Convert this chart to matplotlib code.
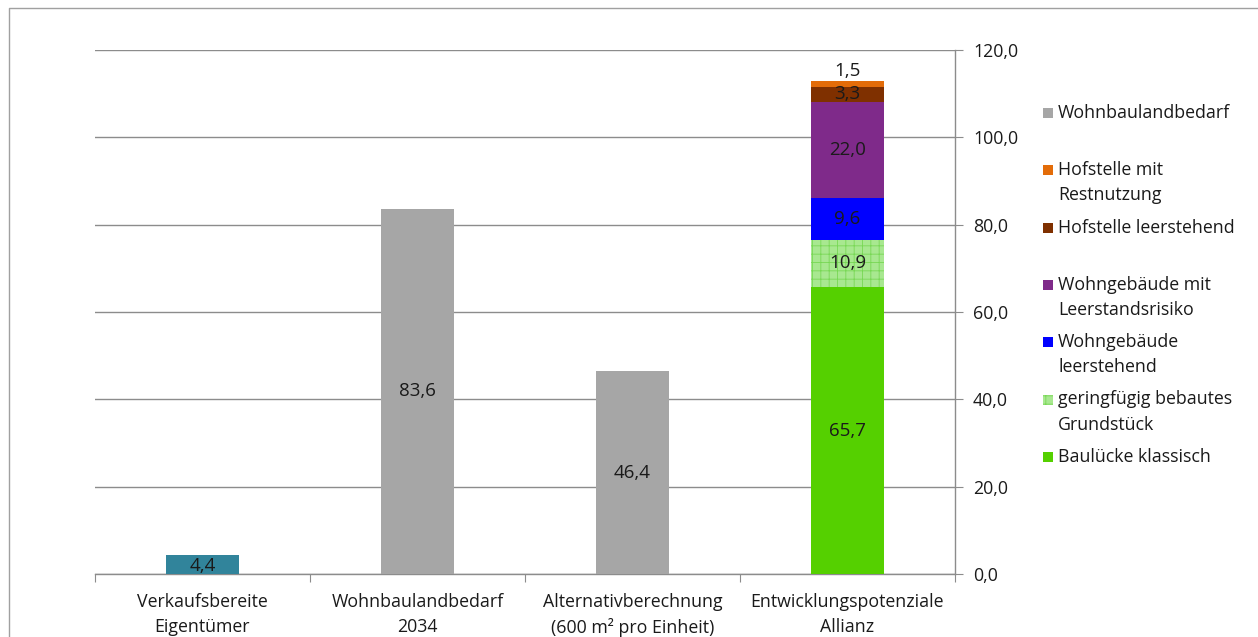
import numpy as np
import matplotlib.pyplot as plt
from matplotlib.patches import Rectangle
from matplotlib.lines import Line2D
from matplotlib.ticker import FuncFormatter

plt.rcParams['font.family'] = ['Open Sans', 'DejaVu Sans']
plt.rcParams['hatch.linewidth'] = 0.6

# Daten
categories = ['Verkaufsbereite\nEigentümer', 'Wohnbaulandbedarf\n2034',
              'Alternativberechnung\n(600 m² pro Einheit)', 'Entwicklungspotenziale\nAllianz']
single_values = [4.4, 83.6, 46.4]
single_colors = ['#31849B', '#A6A6A6', '#A6A6A6']
stack_names = ['Baulücke klassisch', 'geringfügig bebautes\nGrundstück', 'Wohngebäude\nleerstehend',
               'Wohngebäude mit\nLeerstandsrisiko', 'Hofstelle leerstehend', 'Hofstelle mit\nRestnutzung']
stack_values = [65.7, 10.9, 9.6, 22.0, 3.3, 1.5]
stack_colors = ['#55D000', '#A8E890', '#0000FF', '#7F2A8A', '#7F3000', '#E36C09']
legend_names = ['Wohnbaulandbedarf', 'Hofstelle mit\nRestnutzung', 'Hofstelle leerstehend',
                'Wohngebäude mit\nLeerstandsrisiko', 'Wohngebäude\nleerstehend',
                'geringfügig bebautes\nGrundstück', 'Baulücke klassisch']
legend_colors = ['#A6A6A6', '#E36C09', '#7F3000', '#7F2A8A', '#0000FF', '#A8E890', '#55D000']

fmt = lambda v: ('%.1f' % v).replace('.', ',')
FS = 12.8
VS = 13.5
TXT = '#1a1a1a'

fig = plt.figure(figsize=(12.58, 6.37), dpi=100)
ax = fig.add_axes([95 / 1258, 1 - 574 / 637, 860 / 1258, 524 / 637])

w = 0.335
x = np.arange(len(categories))

# einzelne Balken
for i, v in enumerate(single_values):
    ax.bar(x[i], v, w, color=single_colors[i], zorder=3)
    y = v / 2 if v > 10 else v / 2 - 0.3
    ax.text(x[i], y, fmt(v), ha='center', va='center', fontsize=VS, color=TXT, zorder=4)

# gestapelter Balken
bottom = 0
for i, v in enumerate(stack_values):
    if i == 1:
        ax.bar(x[3], v, w, bottom=bottom, color=stack_colors[i], edgecolor='#78D855',
               linewidth=0, hatch='++', zorder=3)
    else:
        ax.bar(x[3], v, w, bottom=bottom, color=stack_colors[i], zorder=3)
    if i == len(stack_values) - 1:
        ax.text(x[3], bottom + v + 0.1, fmt(v), ha='center', va='bottom', fontsize=VS,
                color=TXT, zorder=4)
    else:
        ax.text(x[3], bottom + v / 2, fmt(v), ha='center', va='center', fontsize=VS,
                color=TXT, zorder=4)
    bottom += v

ax.set_xlim(-0.5, 3.5)
ax.set_ylim(0, 120)
ax.yaxis.tick_right()
ax.set_yticks(np.arange(0, 121, 20))
ax.yaxis.set_major_formatter(FuncFormatter(lambda v, p: fmt(v)))
ax.grid(axis='y', color='#8C8C8C', linewidth=1, zorder=0)
ax.set_xticks([-0.5, 0.5, 1.5, 2.5, 3.5])
ax.set_xticklabels([])
ax.set_xticks(x, minor=True)
ax.set_xticklabels(categories, minor=True, fontsize=FS, color=TXT, linespacing=1.45)
ax.tick_params(axis='x', which='minor', length=0, pad=14)
ax.tick_params(axis='x', which='major', length=6, color='#8C8C8C', direction='out')
ax.tick_params(axis='y', length=6, color='#8C8C8C', labelsize=FS, labelcolor=TXT, pad=7)
for s in ['top', 'left']:
    ax.spines[s].set_visible(False)
for s in ['bottom', 'right']:
    ax.spines[s].set_color('#8C8C8C')
    ax.spines[s].set_linewidth(1)

# Legende manuell
for i, (name, col) in enumerate(zip(legend_names, legend_colors)):
    ytop = 113 + 57.3 * i
    if col == '#A8E890':
        fig.patches.append(Rectangle((1043 / 1258, 1 - (ytop + 5) / 637), 10 / 1258, 10 / 637,
                                     transform=fig.transFigure, facecolor=col, edgecolor='#78D855',
                                     linewidth=0, hatch='++'))
    else:
        fig.patches.append(Rectangle((1043 / 1258, 1 - (ytop + 5) / 637), 10 / 1258, 10 / 637,
                                     transform=fig.transFigure, facecolor=col, linewidth=0))
    for j, line in enumerate(name.split('\n')):
        fig.text(1058 / 1258, 1 - (ytop + 25 * j) / 637, line, ha='left', va='center',
                 fontsize=FS, color=TXT)

# Rahmen (oben und links)
fig.lines.append(Line2D([8.5 / 1258, 8.5 / 1258, 1], [0, 1 - 7.5 / 637, 1 - 7.5 / 637],
                        transform=fig.transFigure, color='#A0A0A0', linewidth=1))

fig.savefig('out.png', dpi=100)
